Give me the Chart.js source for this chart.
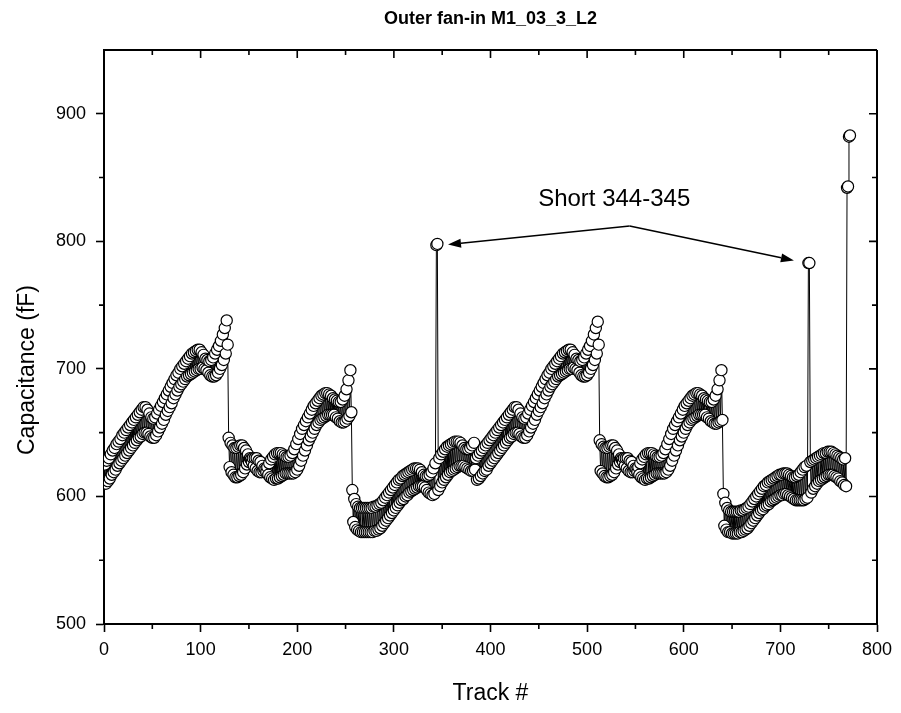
<!DOCTYPE html>
<html><head><meta charset="utf-8">
<script src="https://cdn.jsdelivr.net/npm/chart.js@4.4.1/dist/chart.umd.min.js"></script>
<style>html,body{margin:0;padding:0;background:#fff;}canvas{display:block;}</style>
</head><body>
<canvas id="c" width="901" height="713"></canvas>
<script>
const chartTitle = 'Outer fan-in M1_03_3_L2';
const xTitle = 'Track #';
const yTitle = 'Capacitance (fF)';
const xTicks = [0,100,200,300,400,500,600,700,800];
const xMinorTicks = [50,150,250,350,450,550,650,750];
const yTicks = [500,600,700,800,900];
const yMinorTicks = [550,650,750,850];
const firstTrack = 1;

// segment A: tracks 1-128 (odd / even tracks)
const segA_odd = [625,628,630,633,636, 638,641,643,645,648, 650,652,654,656,658, 660,662,664,666,668, 670,670,668,665,662, 661,662,665,668,671, 674,677,680,683,686, 689,692,695,697,700, 702,704,706,708,710, 712,713,714,715,715, 713,711,708,707,706, 707,709,712,715,718, 722,727,732,738];
const segA_even = [610,612,614,617,619, 621,624,626,628,630, 632,634,636,638,640, 642,644,646,647,649, 650,650,649,647,646, 646,648,651,654,657, 660,664,667,670,673, 677,680,683,686,688, 690,692,694,695,696, 697,698,699,700,700, 701,700,699,697,695, 694,694,695,697,700, 703,707,712,719];
// segment B: tracks 129-256
const segB_odd = [646,642,640,638,638, 639,640,640,638,636, 633,630,627,624,622, 620,619,619,620,621, 623,626,629,631,633, 634,634,634,633,632, 631,631,632,634,637, 641,645,649,653,656, 659,662,665,668,671, 673,675,677,679,680, 681,681,680,679,677, 676,675,674,674,676, 679,684,691,699];
const segB_even = [623,619,617,615,615, 616,617,619,622,625, 627,629,630,630,630, 628,627,624,622,619, 617,615,614,613,614, 614,615,616,617,618, 618,618,618,618,619, 621,624,628,632,636, 640,644,647,650,653, 656,658,660,661,662, 663,664,664,664,664, 662,661,659,658,658, 659,661,663,666];
// segment C: tracks 257-384 (short at 344-345)
const segC_odd = [605,598,594,592,591, 591,591,591,591,591, 591,592,592,593,594, 595,597,599,601,603, 605,607,609,611,613, 614,616,617,618,619, 620,621,622,622,622, 621,619,617,616,616, 617,619,622,626,798, 630,633,635,637,639, 640,641,642,643,643, 643,642,640,638,637, 637,638,640,642];
const segC_even = [580,576,574,573,572, 572,572,572,572,572, 572,573,573,574,575, 577,579,581,583,585, 587,589,591,593,595, 597,598,600,601,603, 604,605,606,607,608, 608,608,607,605,603, 602,601,602,797,605, 608,611,613,615,617, 619,620,621,622,623, 624,624,624,623,622, 621,620,620,621];
// segment D: tracks 385-512
const segD_odd = [630,632,634,636,638, 640,642,644,646,648, 650,652,654,656,658, 660,662,664,666,668, 670,670,668,665,662, 661,662,665,668,671, 674,677,680,683,686, 689,692,695,697,700, 702,704,706,708,710, 712,713,714,715,715, 713,711,708,707,706, 707,709,712,715,718, 722,727,732,737];
const segD_even = [613,614,616,618,620, 621,624,626,628,630, 632,634,636,638,640, 642,644,646,647,649, 650,650,649,647,646, 646,648,651,654,657, 660,664,667,670,673, 677,680,683,686,688, 690,692,694,695,696, 697,698,699,700,700, 701,700,699,697,695, 694,694,695,697,700, 703,707,712,719];
// segment E: tracks 513-640
const segE_odd = [644,641,639,638,638, 639,640,640,638,636, 633,630,627,624,622, 620,619,619,620,621, 623,626,629,631,633, 634,634,634,633,632, 631,631,632,634,637, 641,645,649,653,656, 659,662,665,668,671, 673,675,677,679,680, 681,681,680,679,677, 676,675,674,674,676, 679,684,691,699];
const segE_even = [620,618,616,615,615, 616,617,619,622,625, 627,629,630,630,630, 628,627,624,622,619, 617,615,614,613,614, 614,615,616,617,618, 618,618,618,618,619, 621,624,628,632,636, 640,644,647,650,653, 656,658,660,661,662, 663,664,664,664,664, 662,661,659,658,657, 657,658,659,660];
// segment F: tracks 641-768
const segF_odd = [602,595,591,589,588, 588,588,588,588,589, 589,590,591,592,594, 596,598,600,602,604, 606,608,609,611,612, 613,614,615,616,617, 617,618,618,618,617, 616,615,615,616,617, 619,621,623,624,783, 627,628,629,630,631, 632,633,634,634,635, 635,635,634,633,632, 631,630,629,630];
const segF_even = [577,574,572,572,571, 571,571,571,572,572, 573,574,575,577,579, 581,583,585,587,589, 590,592,593,594,596, 597,598,599,600,601, 601,602,602,601,600, 599,598,597,597,597, 597,597,598,599,783, 603,606,608,610,612, 613,614,615,616,617, 617,617,616,615,614, 612,611,609,608];
// tracks 769-772
const tailValues = [842,843,882,883];

// annotation (data coordinates)
const noteText = 'Short 344-345';
const noteLabelAt = {x: 528, y: 833};
const noteArrowFrom = {x: 544, y: 812};
const noteArrowTips = [{x: 356, y: 797.5}, {x: 714, y: 785}];

const segments = [[segA_odd,segA_even],[segB_odd,segB_even],[segC_odd,segC_even],[segD_odd,segD_even],[segE_odd,segE_even],[segF_odd,segF_even]];
const values = [];
segments.forEach(([o,e]) => { for (let i = 0; i < o.length; i++) { values.push(o[i]); values.push(e[i]); } });
tailValues.forEach(v => values.push(v));
const points = values.map((v,i) => ({x: firstTrack + i, y: v}));

const FONT = "'Liberation Sans', Arial, sans-serif";

const framePlugin = {
  id: 'frame',
  afterDraw(chart) {
    const {ctx, chartArea: a, scales: {x, y}} = chart;
    ctx.save();
    ctx.strokeStyle = '#000';
    ctx.lineWidth = 2;
    ctx.beginPath();
    ctx.moveTo(a.left, a.top); ctx.lineTo(a.right, a.top);
    ctx.moveTo(a.right, a.top); ctx.lineTo(a.right, a.bottom);
    ctx.stroke();
    ctx.lineWidth = 1.6;
    ctx.beginPath();
    xMinorTicks.forEach(v => { const p = x.getPixelForValue(v); ctx.moveTo(p, a.bottom); ctx.lineTo(p, a.bottom + 5); });
    yMinorTicks.forEach(v => { const p = y.getPixelForValue(v); ctx.moveTo(a.left, p); ctx.lineTo(a.left - 5, p); });
    xTicks.forEach(v => { const p = x.getPixelForValue(v); ctx.moveTo(p, a.top); ctx.lineTo(p, a.top + 8); });
    xMinorTicks.forEach(v => { const p = x.getPixelForValue(v); ctx.moveTo(p, a.top); ctx.lineTo(p, a.top + 5); });
    yTicks.forEach(v => { const p = y.getPixelForValue(v); ctx.moveTo(a.right, p); ctx.lineTo(a.right - 8, p); });
    yMinorTicks.forEach(v => { const p = y.getPixelForValue(v); ctx.moveTo(a.right, p); ctx.lineTo(a.right - 5, p); });
    ctx.stroke();

    ctx.fillStyle = '#000';
    ctx.textAlign = 'center';
    ctx.textBaseline = 'middle';
    ctx.font = 'bold 18px ' + FONT;
    ctx.fillText(chartTitle, (a.left + a.right) / 2, 19);
    ctx.font = '23px ' + FONT;
    ctx.fillText(xTitle, (a.left + a.right) / 2, 694);
    ctx.save();
    ctx.translate(28, 370);
    ctx.rotate(-Math.PI / 2);
    ctx.fillText(yTitle, 0, 0);
    ctx.restore();

    // annotation
    ctx.font = '24px ' + FONT;
    ctx.fillText(noteText, x.getPixelForValue(noteLabelAt.x), y.getPixelForValue(noteLabelAt.y));
    const fx = x.getPixelForValue(noteArrowFrom.x), fy = y.getPixelForValue(noteArrowFrom.y);
    noteArrowTips.forEach(t => {
      const tx = x.getPixelForValue(t.x), ty = y.getPixelForValue(t.y);
      const ang = Math.atan2(ty - fy, tx - fx);
      const len = 13, hw = 4.5;
      const bx = tx - len * Math.cos(ang), by = ty - len * Math.sin(ang);
      ctx.lineWidth = 1.6;
      ctx.beginPath(); ctx.moveTo(fx, fy); ctx.lineTo(bx, by); ctx.stroke();
      ctx.beginPath();
      ctx.moveTo(tx, ty);
      ctx.lineTo(bx + hw * Math.sin(ang), by - hw * Math.cos(ang));
      ctx.lineTo(bx - hw * Math.sin(ang), by + hw * Math.cos(ang));
      ctx.closePath(); ctx.fill();
    });
    ctx.restore();
  }
};

new Chart(document.getElementById('c'), {
  type: 'line',
  data: { datasets: [{
    data: points,
    borderColor: '#000', borderWidth: 1, tension: 0, fill: false,
    pointRadius: 5.6, pointBorderWidth: 1.2, pointBackgroundColor: '#fff', pointBorderColor: '#000'
  }]},
  options: {
    responsive: false, animation: false, devicePixelRatio: 1,
    layout: { padding: { top: 50, right: 24, left: 0, bottom: 0 } },
    plugins: { legend: { display: false }, tooltip: { enabled: false }, title: { display: false } },
    scales: {
      x: {
        type: 'linear', min: 0, max: 800,
        afterBuildTicks: s => { s.ticks = xTicks.map(v => ({ value: v })); },
        afterFit: s => { s.height = 89; },
        grid: { drawOnChartArea: false, drawTicks: true, tickLength: 8, tickWidth: 1.6, tickColor: '#000' },
        border: { display: true, color: '#000', width: 2 },
        ticks: { color: '#000', font: { family: FONT, size: 18 }, padding: 7, maxRotation: 0, autoSkip: false }
      },
      y: {
        type: 'linear', min: 500, max: 950,
        afterBuildTicks: s => { s.ticks = yTicks.map(v => ({ value: v })); },
        afterFit: s => { s.width = 104; },
        grid: { drawOnChartArea: false, drawTicks: true, tickLength: 8, tickWidth: 1.6, tickColor: '#000' },
        border: { display: true, color: '#000', width: 2 },
        ticks: { color: '#000', font: { family: FONT, size: 18 }, padding: 10, autoSkip: false }
      }
    }
  },
  plugins: [framePlugin]
});
</script>
</body></html>
